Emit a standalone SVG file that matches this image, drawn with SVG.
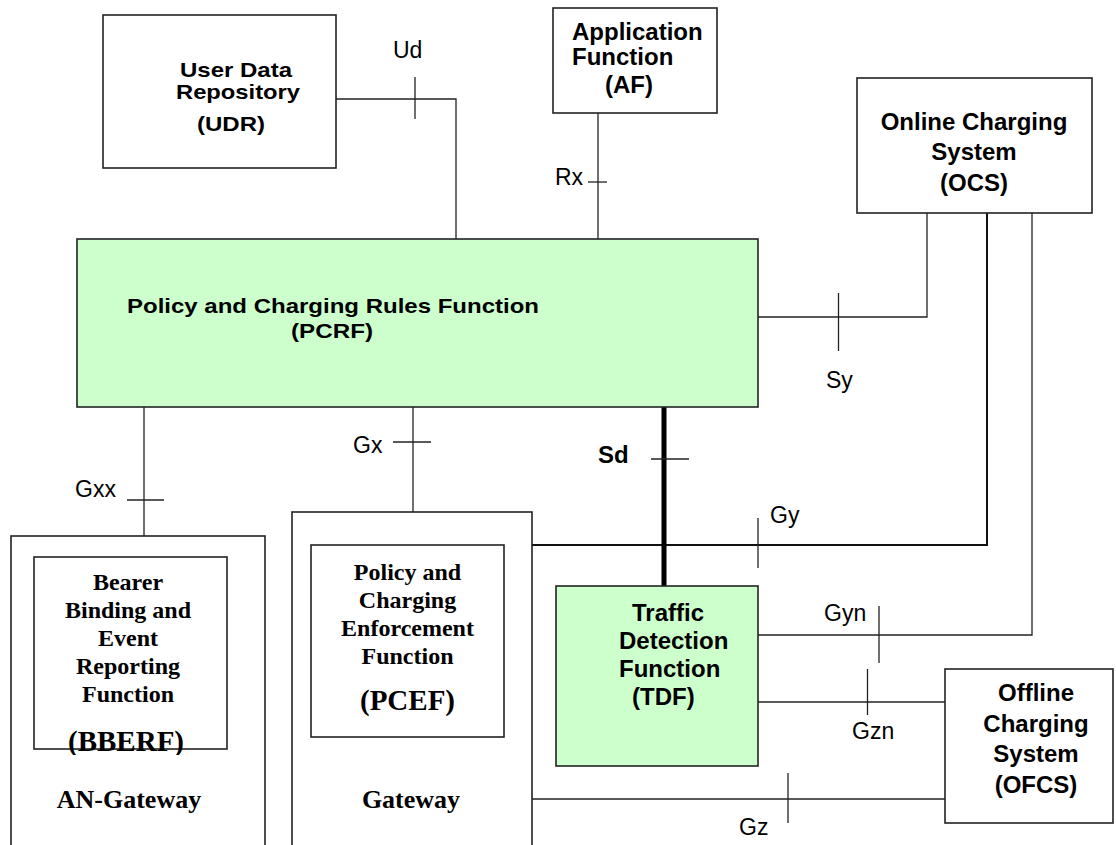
<svg xmlns="http://www.w3.org/2000/svg" width="1116" height="845" viewBox="0 0 1116 845">
<style>
.box{fill:#fff;stroke:#222;stroke-width:1.6}
.green{fill:#ccffcc;stroke:#222;stroke-width:1.6}
.ln{fill:none;stroke:#222;stroke-width:1.3}
.thk{fill:none;stroke:#111;stroke-width:2}
.sd{fill:none;stroke:#000;stroke-width:5}
.b{font-family:"Liberation Sans",Arial,sans-serif;font-weight:bold;font-size:24px;fill:#000}
.bs{font-family:"Liberation Sans",Arial,sans-serif;font-weight:bold;font-size:21px;fill:#000}
.r{font-family:"Liberation Sans",Arial,sans-serif;font-size:23px;fill:#000}
.t{font-family:"Liberation Serif","Times New Roman",serif;font-weight:bold;font-size:24px;fill:#000}
.tl{font-family:"Liberation Serif","Times New Roman",serif;font-weight:bold;font-size:29px;fill:#000}
.tg{font-family:"Liberation Serif","Times New Roman",serif;font-weight:bold;font-size:26px;fill:#000}
</style>
<defs>
<clipPath id="bbclip"><rect x="0" y="0" width="1116" height="755"/></clipPath>
</defs>
<rect width="1116" height="845" fill="#fff"/>

<g id="connectors">
<!-- Ud -->
<polyline class="ln" points="336,99 456,99 456,239"/>
<line class="ln" x1="415" y1="77" x2="415" y2="119"/>
<!-- Rx -->
<line class="ln" x1="598" y1="113" x2="598" y2="239"/>
<line class="ln" x1="588" y1="182" x2="607" y2="182"/>
<!-- Sy -->
<polyline class="ln" points="758,317 927,317 927,213"/>
<line class="ln" x1="838.5" y1="293" x2="838.5" y2="351"/>
<!-- Gy -->
<polyline class="thk" points="532,545 987,545 987,213"/>
<line class="ln" x1="758" y1="518" x2="758" y2="568"/>
<!-- Gyn -->
<polyline class="ln" points="758,635 1032,635 1032,197"/>
<line class="ln" x1="879" y1="606" x2="879" y2="663"/>
<!-- Gzn -->
<line class="ln" x1="758" y1="702" x2="945" y2="702"/>
<line class="ln" x1="867.5" y1="669" x2="867.5" y2="715"/>
<!-- Gz -->
<line class="ln" x1="532" y1="799" x2="945" y2="799"/>
<line class="ln" x1="788" y1="773" x2="788" y2="823"/>
<!-- Sd -->
<line class="sd" x1="664" y1="407" x2="664" y2="586"/>
<line class="ln" x1="651" y1="459" x2="689" y2="459"/>
<!-- Gx -->
<line class="ln" x1="413" y1="407" x2="413" y2="545"/>
<line class="ln" x1="393" y1="442" x2="431" y2="442"/>
<!-- Gxx -->
<line class="ln" x1="144" y1="407" x2="144" y2="557"/>
<line class="ln" x1="127" y1="500" x2="164" y2="500"/>
<!-- labels -->
<text class="r" x="393" y="58">Ud</text>
<text class="r" x="555" y="185">Rx</text>
<text class="r" x="826" y="388">Sy</text>
<text class="r" x="353" y="453">Gx</text>
<text class="r" x="75" y="497">Gxx</text>
<text class="b" x="598" y="463">Sd</text>
<text class="r" x="770" y="523">Gy</text>
<text class="r" x="824" y="621">Gyn</text>
<text class="r" x="852" y="739">Gzn</text>
<text class="r" x="739" y="835">Gz</text>
</g>

<g id="udr">
<rect class="box" x="103" y="15" width="233" height="153"/>
<text class="bs" x="180" y="77" textLength="112" lengthAdjust="spacingAndGlyphs">User Data</text>
<text class="bs" x="176" y="99" textLength="124" lengthAdjust="spacingAndGlyphs">Repository</text>
<text class="bs" x="197" y="131" textLength="68" lengthAdjust="spacingAndGlyphs">(UDR)</text>
</g>

<g id="af">
<rect class="box" x="553" y="8" width="164" height="105"/>
<text class="b" x="572" y="40">Application</text>
<text class="b" x="572" y="65">Function</text>
<text class="b" x="605" y="93">(AF)</text>
</g>

<g id="ocs">
<rect class="box" x="857" y="78" width="235" height="135"/>
<text class="b" x="974" y="130" text-anchor="middle">Online Charging</text>
<text class="b" x="974" y="160" text-anchor="middle">System</text>
<text class="b" x="974" y="191" text-anchor="middle">(OCS)</text>
</g>

<g id="pcrf">
<rect class="green" x="77" y="239" width="681" height="168"/>
<text class="bs" x="127" y="313" textLength="412" lengthAdjust="spacingAndGlyphs">Policy and Charging Rules Function</text>
<text class="bs" x="291" y="338" textLength="82" lengthAdjust="spacingAndGlyphs">(PCRF)</text>
</g>

<g id="an-gateway">
<rect class="box" x="11" y="536" width="254" height="330"/>
<text class="tg" x="129" y="808" text-anchor="middle">AN-Gateway</text>
</g>

<g id="bberf">
<rect class="box" x="34" y="557" width="193" height="192"/>
<g text-anchor="middle">
<text class="t" x="128" y="590">Bearer</text>
<text class="t" x="128" y="618">Binding and</text>
<text class="t" x="128" y="646">Event</text>
<text class="t" x="128" y="674">Reporting</text>
<text class="t" x="128" y="702">Function</text>
<text class="tl" x="126" y="751" clip-path="url(#bbclip)">(BBERF)</text>
</g>
</g>

<g id="gateway">
<rect class="box" x="292" y="512" width="240" height="354"/>
<text class="tg" x="411" y="808" text-anchor="middle">Gateway</text>
</g>

<g id="pcef">
<rect class="box" x="311" y="545" width="193" height="192"/>
<g text-anchor="middle">
<text class="t" x="407.5" y="580">Policy and</text>
<text class="t" x="407.5" y="608">Charging</text>
<text class="t" x="407.5" y="636">Enforcement</text>
<text class="t" x="407.5" y="664">Function</text>
<text class="tl" x="407.5" y="710">(PCEF)</text>
</g>
</g>

<g id="tdf">
<rect class="green" x="556" y="586" width="202" height="180"/>
<text class="b" x="632" y="621">Traffic</text>
<text class="b" x="619" y="649">Detection</text>
<text class="b" x="619" y="677">Function</text>
<text class="b" x="632" y="705">(TDF)</text>
</g>

<g id="ofcs">
<rect class="box" x="945" y="669" width="168" height="154"/>
<g text-anchor="middle">
<text class="b" x="1036" y="701">Offline</text>
<text class="b" x="1036" y="732">Charging</text>
<text class="b" x="1036" y="762">System</text>
<text class="b" x="1036" y="793">(OFCS)</text>
</g>
</g>
</svg>
